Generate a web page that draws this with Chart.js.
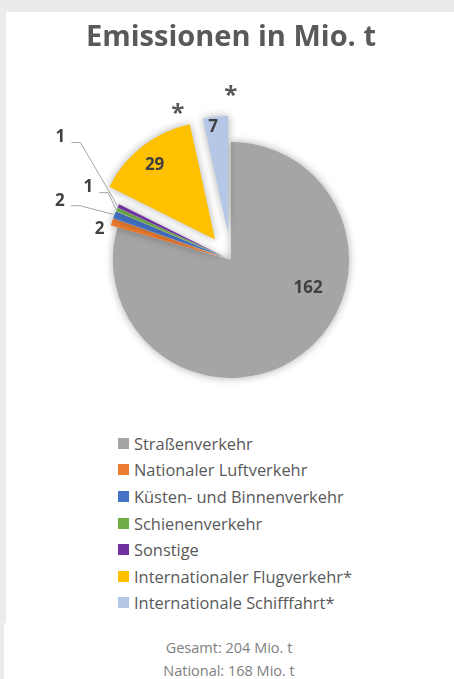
<!DOCTYPE html>
<html lang="de">
<head>
<meta charset="utf-8">
<title>Emissionen in Mio. t</title>
<script src="https://cdn.jsdelivr.net/npm/chart.js@4/dist/chart.umd.min.js"></script>
<style>
  html, body { margin: 0; padding: 0; }
  body { width: 454px; height: 679px; background: #ebebeb; position: relative; overflow: hidden;
         font-family: "Open Sans", sans-serif; }
  #card { position: absolute; left: 6px; top: 12px; width: 448px; height: 611px; background: #fff; }
  #foot { position: absolute; left: 4px; top: 623px; width: 450px; height: 56px; background: #fff; }
  #pie { position: absolute; left: 0; top: 0; }
  #legend { position: absolute; left: 118px; top: 430px; margin: 0; padding: 0; list-style: none; }
  #legend li { height: 26.6px; display: flex; align-items: center; font-size: 16.4px; color: #595959; white-space: nowrap; }
  #legend li span { display: inline-block; width: 11px; height: 11px; margin-right: 5px; }
  #totals { position: absolute; left: 4px; top: 636px; width: 450px; text-align: center;
            font-size: 14.5px; line-height: 23px; color: #7f7f7f; }
</style>
</head>
<body>
<div id="card"></div>
<div id="foot"></div>
<canvas id="pie" width="454" height="420"></canvas>
<ul id="legend"></ul>
<div id="totals"></div>

<script>
// Werte aus der Grafik (Mio. t)
const categories = [
  "Straßenverkehr",
  "Nationaler Luftverkehr",
  "Küsten- und Binnenverkehr",
  "Schienenverkehr",
  "Sonstige",
  "Internationaler Flugverkehr*",
  "Internationale Schifffahrt*"
];
const values = [162, 2, 2, 1, 1, 29, 7];
const colors = ["#a5a5a5", "#ed7d31", "#4472c4", "#70ad47", "#7030a0", "#ffc000", "#b4c7e7"];

// explosion (px) per slice
const explode = [0, 7, 7, 7, 7, 26, 26];
// value label: [angle clockwise from top in deg, distance from slice centre], leader line yes/no
const labelSpots = [
  [110, 82, false],
  [283, 128, false],
  [289, 174, true],
  [297, 153, true],
  [306, 203, true],
  [321, 96, false],
  [352, 108, false]
];
// asterisk position for international slices
const starSpots = { 5: [344, 135], 6: [1, 143] };

const rad = (deg) => (deg - 90) * Math.PI / 180;

const explodePlugin = {
  id: 'explode',
  afterDatasetUpdate(chart, args) {
    args.meta.data.forEach((arc, i) => {
      const mid = (arc.startAngle + arc.endAngle) / 2;
      arc.x += Math.cos(mid) * explode[i];
      arc.y += Math.sin(mid) * explode[i];
    });
  }
};

const shadowPlugin = {
  id: 'softShadow',
  beforeDatasetDraw(chart) {
    const ctx = chart.ctx;
    ctx.save();
    ctx.shadowColor = 'rgba(0,0,0,0.33)';
    ctx.shadowBlur = 8;
  },
  afterDatasetDraw(chart) {
    chart.ctx.restore();
  }
};

const labelPlugin = {
  id: 'valueLabels',
  afterDatasetsDraw(chart) {
    const ctx = chart.ctx;
    const arcs = chart.getDatasetMeta(0).data;
    ctx.save();
    ctx.textAlign = 'center';
    ctx.textBaseline = 'middle';
    arcs.forEach((arc, i) => {
      const [ang, dist, leader] = labelSpots[i];
      const lx = arc.x + Math.cos(rad(ang)) * dist;
      const ly = arc.y + Math.sin(rad(ang)) * dist;
      if (leader) {
        const mid = (arc.startAngle + arc.endAngle) / 2;
        const ex = arc.x + Math.cos(mid) * (arc.outerRadius + 1);
        const ey = arc.y + Math.sin(mid) * (arc.outerRadius + 1);
        ctx.strokeStyle = '#a6a6a6';
        ctx.lineWidth = 1;
        ctx.beginPath();
        ctx.moveTo(lx + 11, ly + 5);
        ctx.lineTo(lx + 20, ly + 5);
        ctx.lineTo(ex, ey);
        ctx.stroke();
      }
      ctx.fillStyle = '#404040';
      ctx.font = 'bold 17px "Open Sans"';
      ctx.fillText(String(values[i]), lx, ly);
      if (starSpots[i]) {
        const [sa, sd] = starSpots[i];
        ctx.fillStyle = '#595959';
        ctx.font = 'bold 24px "Open Sans"';
        ctx.fillText('*', arc.x + Math.cos(rad(sa)) * sd, arc.y + Math.sin(rad(sa)) * sd + 5);
      }
    });
    ctx.restore();
  }
};

new Chart(document.getElementById('pie'), {
  type: 'pie',
  data: {
    labels: categories,
    datasets: [{
      data: values,
      backgroundColor: colors,
      borderWidth: 0,
      radius: 118
    }]
  },
  options: {
    responsive: false,
    animation: false,
    layout: { padding: { left: 8, right: 0, top: 0, bottom: 0 } },
    plugins: {
      legend: { display: false },
      tooltip: { enabled: false },
      title: {
        display: true,
        text: 'Emissionen in Mio. t',
        color: '#595959',
        font: { family: '"Open Sans"', size: 29, weight: 'bold' },
        padding: { top: 20, bottom: 45 }
      }
    }
  },
  plugins: [explodePlugin, shadowPlugin, labelPlugin]
});

// Legende
const legend = document.getElementById('legend');
categories.forEach((name, i) => {
  const li = document.createElement('li');
  const box = document.createElement('span');
  box.style.background = colors[i];
  li.appendChild(box);
  li.appendChild(document.createTextNode(name));
  legend.appendChild(li);
});

// Summen
const total = values.reduce((a, b) => a + b, 0);
const national = values.filter((v, i) => !categories[i].endsWith('*')).reduce((a, b) => a + b, 0);
document.getElementById('totals').innerHTML =
  'Gesamt: ' + total + ' Mio. t<br>National: ' + national + ' Mio. t';
</script>
</body>
</html>
